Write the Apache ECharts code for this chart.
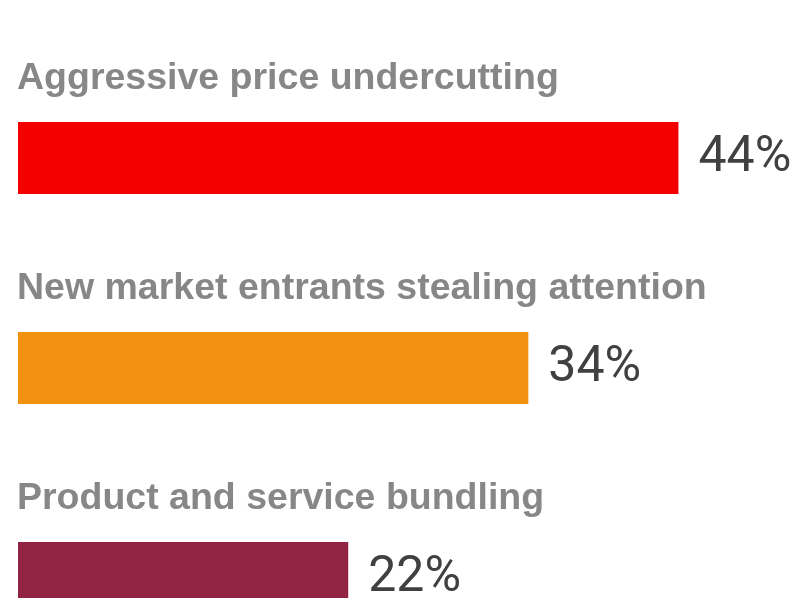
<!DOCTYPE html>
<html>
<head>
<meta charset="utf-8">
<script src="https://cdn.jsdelivr.net/npm/echarts@6/dist/echarts.min.js"></script>
<style>html,body{margin:0;padding:0;background:#fff;overflow:hidden}#c{width:793px;height:683px}</style>
</head>
<body>
<div id="c"></div>
<script>
const categories = ["Aggressive price undercutting", "New market entrants stealing attention", "Product and service bundling"];
const values = [44, 34, 22];
const colors = ["#f50000", "#f29111", "#912443"];

const chart = echarts.init(document.getElementById('c'), null, {renderer: 'canvas'});
chart.setOption({
  animation: false,
  grid: {left: 18, top: 53, right: 17, bottom: 0, containLabel: false},
  xAxis: {type: 'value', min: 0, max: 50.5, show: false},
  yAxis: {type: 'category', data: categories, inverse: true, show: false},
  series: [
    {
      type: 'bar',
      barWidth: 72,
      data: values.map((v, i) => ({value: v, itemStyle: {color: colors[i]}})),
      label: {
        show: true, position: 'right', distance: 20,
        formatter: '{c}%', fontFamily: 'Roboto', fontSize: 50, color: '#404040'
      }
    },
    {
      type: 'bar',
      barWidth: 72,
      barGap: '-100%',
      silent: true,
      itemStyle: {color: 'rgba(0,0,0,0)'},
      data: values,
      label: {
        show: true, position: [-1, -43], verticalAlign: 'middle', align: 'left',
        formatter: '{b}', fontFamily: 'Liberation Sans', fontWeight: 'bold',
        fontSize: 37.5, color: '#878787'
      }
    }
  ]
});
</script>
</body>
</html>
